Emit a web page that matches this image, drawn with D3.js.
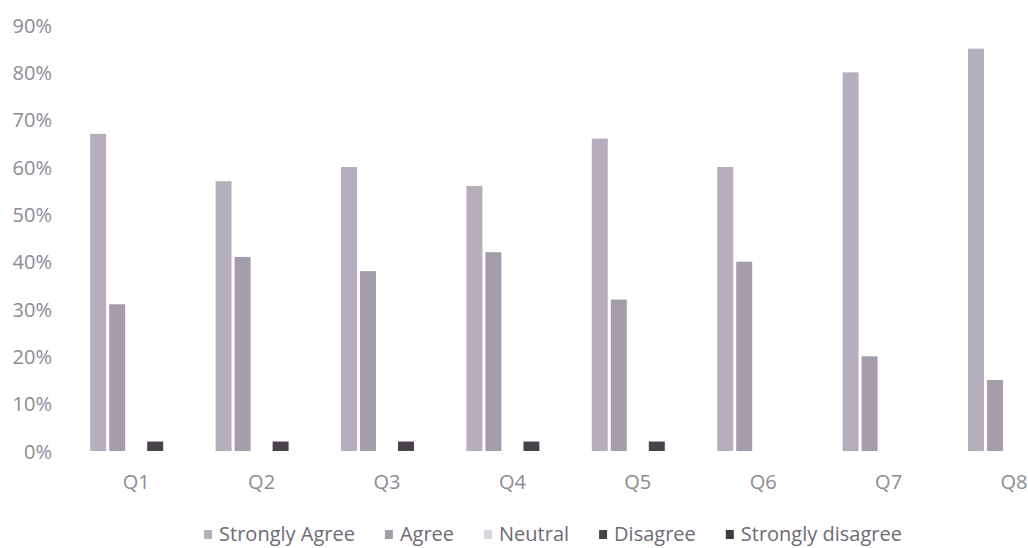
<!DOCTYPE html>
<html>
<head>
<meta charset="utf-8">
<script src="https://cdn.jsdelivr.net/npm/d3@7"></script>
<style>
  html, body { margin: 0; padding: 0; background: #ffffff; }
  svg { display: block; }
  svg text { font-family: "Open Sans", "Noto Sans", sans-serif; }
</style>
</head>
<body>
<svg id="chart" width="1028" height="548"></svg>
<script>
// Survey responses per question (share of respondents)
const questions = ["Q1", "Q2", "Q3", "Q4", "Q5", "Q6", "Q7", "Q8"];
const seriesNames = ["Strongly Agree", "Agree", "Neutral", "Disagree", "Strongly disagree"];
const stronglyAgree    = [0.67, 0.57, 0.60, 0.56, 0.66, 0.60, 0.80, 0.85];
const agree            = [0.31, 0.41, 0.38, 0.42, 0.32, 0.40, 0.20, 0.15];
const neutral          = [0, 0, 0, 0, 0, 0, 0, 0];
const disagree         = [0.02, 0.02, 0.02, 0.02, 0.02, 0, 0, 0];
const stronglyDisagree = [0, 0, 0, 0, 0, 0, 0, 0];
const yTicks = [0, 0.1, 0.2, 0.3, 0.4, 0.5, 0.6, 0.7, 0.8, 0.9];

const seriesValues = [stronglyAgree, agree, neutral, disagree, stronglyDisagree];
const colors = ["#b5aebd", "#a39ca9", "#d9d6df", "#48424b", "#3d393f"];
const FONT = '"Open Sans", "Noto Sans", sans-serif';

const svg = d3.select("#chart");

// Plot frame: the category band extends past the right edge of the canvas
const step = 125.4;
const left = 73.5;
const x0 = d3.scaleBand()
  .domain(questions)
  .range([left, left + step * questions.length])
  .paddingInner(0)
  .paddingOuter(0);

const groupWidth = 92;
const x1 = d3.scaleBand()
  .domain(seriesNames)
  .range([(x0.bandwidth() - groupWidth) / 2, (x0.bandwidth() + groupWidth) / 2])
  .paddingInner(0.16)
  .paddingOuter(0);

const y = d3.scaleLinear().domain([0, 0.9]).range([451, 25]);

// Y axis (labels only)
const yAxis = svg.append("g")
  .attr("transform", "translate(52,0)")
  .call(d3.axisLeft(y).tickValues(yTicks).tickFormat(d3.format(".0%")).tickSize(0).tickPadding(0));
yAxis.attr("font-family", FONT).attr("font-size", 20);
yAxis.select(".domain").remove();
yAxis.selectAll("text")
  .attr("fill", "#8e8a93")
  .attr("dy", "0.36em");

// X axis (labels only)
const xAxis = svg.append("g")
  .attr("transform", "translate(0,489)")
  .call(d3.axisBottom(x0).tickSize(0).tickPadding(0));
xAxis.attr("font-family", FONT).attr("font-size", 20);
xAxis.select(".domain").remove();
xAxis.selectAll("text")
  .attr("fill", "#8e8a93")
  .attr("y", 0)
  .attr("dy", 0);

// Bars
const rows = questions.map((q, i) => ({
  q,
  vals: seriesNames.map((s, k) => ({ s, k, v: seriesValues[k][i] }))
}));

const groups = svg.append("g").selectAll("g")
  .data(rows)
  .join("g")
  .attr("transform", d => `translate(${x0(d.q)},0)`);

groups.selectAll("rect")
  .data(d => d.vals.filter(e => e.v > 0))
  .join("rect")
  .attr("x", e => x1(e.s))
  .attr("width", x1.bandwidth())
  .attr("y", e => y(e.v))
  .attr("height", e => y(0) - y(e.v))
  .attr("fill", e => colors[e.k]);

// Legend, laid out from measured label widths and centred under the plot
const legend = svg.append("g")
  .attr("transform", "translate(0,541)")
  .attr("font-family", FONT)
  .attr("font-size", 20);
const items = legend.selectAll("g")
  .data(seriesNames)
  .join("g");
items.append("rect")
  .attr("width", 8)
  .attr("height", 9)
  .attr("y", -11)
  .attr("fill", (d, i) => colors[i]);
items.append("text")
  .attr("x", 15)
  .attr("y", 0)
  .attr("fill", "#6f6a74")
  .text(d => d);

const gap = 30;
const widths = [];
items.each(function () {
  widths.push(15 + this.querySelector("text").getComputedTextLength());
});
const total = d3.sum(widths) + gap * (widths.length - 1);
let cx = 553 - total / 2;
items.attr("transform", (d, i) => {
  const t = `translate(${cx},0)`;
  cx += widths[i] + gap;
  return t;
});
</script>
</body>
</html>
